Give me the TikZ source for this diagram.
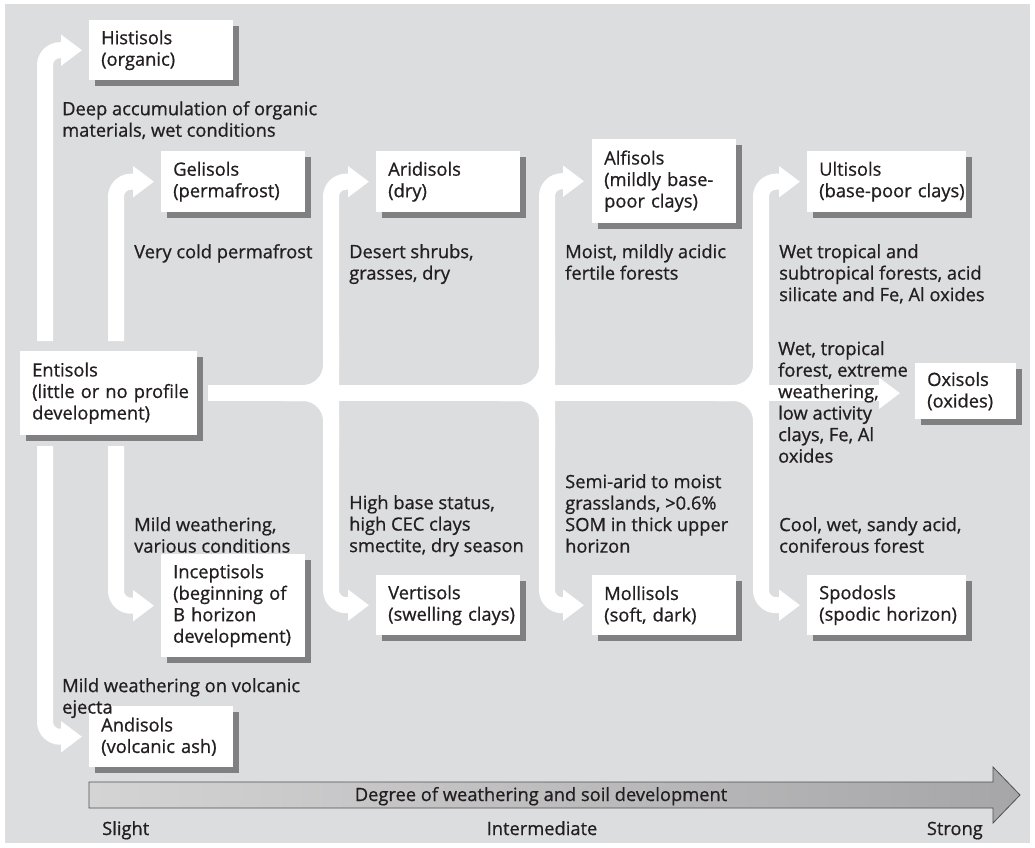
\documentclass[tikz,border=0pt]{standalone}
\usepackage{fontspec}
\setmainfont{Open Sans}[RawFeature={embolden=0.8}]
\usetikzlibrary{arrows.meta,shadows}
\definecolor{bg}{RGB}{220,221,223}
\definecolor{shadowc}{RGB}{128,128,130}
\definecolor{ink}{RGB}{35,31,32}
\definecolor{barL}{RGB}{212,212,213}
\definecolor{barR}{RGB}{166,166,168}
\definecolor{barline}{RGB}{80,80,82}
\newcommand{\bxl}[1]{\mbox{#1}}
\begin{document}
\begin{tikzpicture}[x=1pt,y=-1pt,
  txt/.style={font=\fontsize{18.3}{21.5}\selectfont, text=ink},
  soil/.style={txt, fill=white, anchor=north west, inner xsep=12pt, inner ysep=0pt,
    align=left, drop shadow={shadow xshift=6pt, shadow yshift=-6pt, fill=shadowc, opacity=1}},
  lbl/.style={txt, anchor=north west, inner sep=0pt, align=left,
    execute at begin node={\rule{0pt}{14pt}}},
  flow/.style={draw=white, line width=16pt, rounded corners=15pt,
    -{Triangle[width=30pt,length=21pt]}},
  fillet/.style={draw=white, line width=16pt, rounded corners=28pt},
  bot/.style={txt, inner sep=0pt},
]
\useasboundingbox (0,0) rectangle (1035,847);
\fill[white] (0,0) rectangle (1035,847);
\fill[bg] (5,4) rectangle (1030,843);

% boxes
\node[soil, minimum height=60pt, text width=120pt] (his) at (89,20) {\bxl{Histisols}\\\bxl{(organic)}};
\node[soil, minimum height=61pt, text width=120pt] (gel) at (161,151) {\bxl{Gelisols}\\\bxl{(permafrost)}};
\node[soil, minimum height=84pt, text width=153pt] (ent) at (20,351) {\bxl{Entisols}\\\bxl{(little or no profile}\\\bxl{development)}};
\node[soil, minimum height=61pt, text width=120pt] (ari) at (376,151) {\bxl{Aridisols}\\\bxl{(dry)}};
\node[soil, minimum height=84pt, text width=120pt] (alf) at (592,139) {\bxl{Alfisols}\\\bxl{(mildly base-}\\\bxl{poor clays)}};
\node[soil, minimum height=61pt, text width=135pt] (ult) at (807,151) {\bxl{Ultisols}\\\bxl{(base-poor clays)}};
\node[soil, minimum height=56pt, text width=77pt] (oxi) at (915,363) {\bxl{Oxisols}\\\bxl{(oxides)}};
\node[soil, minimum height=60pt, text width=120pt] (ver) at (376,575) {\bxl{Vertisols}\\\bxl{(swelling clays)}};
\node[soil, minimum height=60pt, text width=120pt] (mol) at (592,575) {\bxl{Mollisols}\\\bxl{(soft, dark)}};
\node[soil, minimum height=60pt, text width=135pt] (spo) at (807,575) {\bxl{Spodosls}\\\bxl{(spodic horizon)}};
\node[soil, minimum height=103pt, text width=120pt] (inc) at (161,554) {\bxl{Inceptisols}\\\bxl{(beginning of}\\\bxl{B horizon}\\\bxl{development)}};
\node[soil, minimum height=61pt, text width=120pt] (andi) at (89,706) {\bxl{Andisols}\\\bxl{(volcanic ash)}};

% free ends and junctions
\coordinate (a1) at (45,341);
\coordinate (a2) at (116,341);
\coordinate (b1) at (45,446);
\coordinate (b2) at (116,446);
\coordinate (j1) at (331,393);
\coordinate (j2) at (547,393);
\coordinate (j3) at (761,393);
\coordinate (f1) at (285,393);
\coordinate (f2) at (501,393);
\coordinate (f3) at (715,393);

% connectors
\draw[flow] (a1) |- ([xshift=-7pt]his.west);
\draw[flow] (a2) |- ([xshift=-7pt]gel.west);
\draw[flow] (b2) |- ([xshift=-7pt]inc.west);
\draw[flow] (b1) |- ([xshift=-7pt]andi.west);
\draw[flow] ([xshift=11pt]ent.east) -- ([xshift=-15pt]oxi.west |- ent.east);
\draw[fillet] (f1) -| (331,340);
\draw[fillet] (f1) -| (331,446);
\draw[fillet] (f2) -| (547,340);
\draw[fillet] (f2) -| (547,446);
\draw[fillet] (f3) -| (761,340);
\draw[fillet] (f3) -| (761,446);
\draw[flow] (j1) |- ([xshift=-7pt]ari.west);
\draw[flow] (j1) |- ([xshift=-7pt]ver.west);
\draw[flow] (j2) |- ([xshift=-8pt]alf.west);
\draw[flow] (j2) |- ([xshift=-8pt]mol.west);
\draw[flow] (j3) |- ([xshift=-7pt]ult.west);
\draw[flow] (j3) |- ([xshift=-7pt]spo.west);

% labels
\node[lbl] (l1) at (62,101) {Deep accumulation of organic\\materials, wet conditions};
\node[lbl] (l2) at (134,244) {Very cold permafrost};
\node[lbl] (l3) at (349,244) {Desert shrubs,\\grasses, dry};
\node[lbl] (l4) at (565,244) {Moist, mildly acidic\\fertile forests};
\node[lbl] (l5) at (779,244) {Wet tropical and\\subtropical forests, acid\\silicate and Fe, Al oxides};
\node[lbl] (l6) at (778,341) {Wet, tropical\\forest, extreme\\weathering,\\low activity\\clays, Fe, Al\\oxides};
\node[lbl] (l7) at (565,474) {Semi-arid to moist\\grasslands, >0.6\%\\SOM in thick upper\\horizon};
\node[lbl] (l8) at (349,495) {High base status,\\high CEC clays\\smectite, dry season};
\node[lbl] (l9) at (134,517) {Mild weathering,\\various conditions};
\node[lbl] (l10) at (779,517) {Cool, wet, sandy acid,\\coniferous forest};
\node[lbl] (l11) at (62,678) {Mild weathering on volcanic\\ejecta};

% weathering arrow
\path[draw=barline, line width=0.8pt, left color=barL, right color=barR]
  (89,782) -- (993,782) -- (993,767) -- (1020,795) -- (993,823) -- (993,808) -- (89,808) -- cycle;
\node[bot, anchor=base] (deg) at (541,801) {Degree of weathering and soil development};
\node[bot, anchor=base west] (sl) at (102,835) {Slight};
\node[bot, anchor=base] (im) at (542,835) {Intermediate};
\node[bot, anchor=base east] (st) at (983,835) {Strong};
\end{tikzpicture}
\end{document}
